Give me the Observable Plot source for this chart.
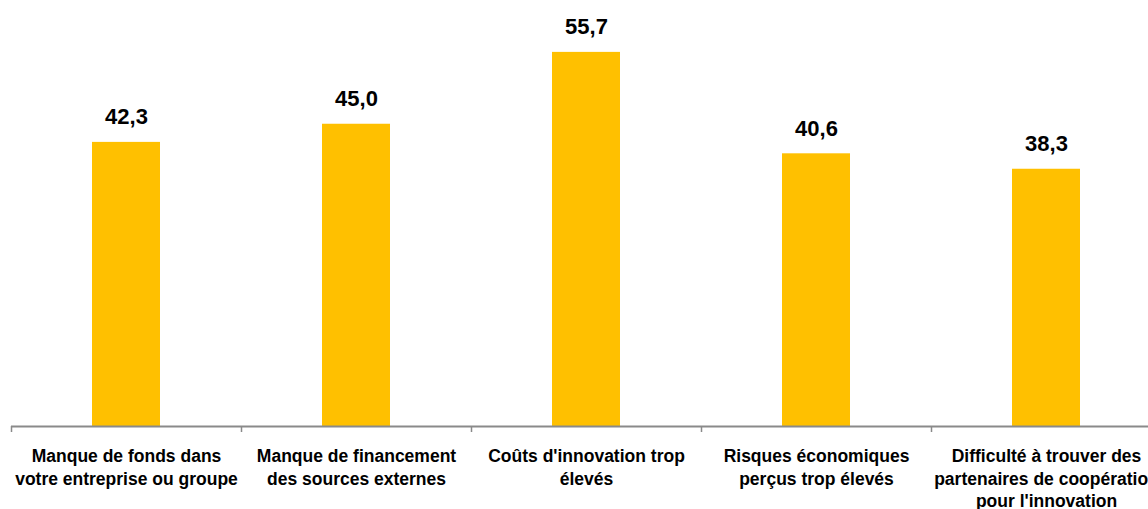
<!DOCTYPE html>
<html>
<head>
<meta charset="utf-8">
<script src="https://cdn.jsdelivr.net/npm/d3@7"></script>
<script src="https://cdn.jsdelivr.net/npm/@observablehq/plot@0.6"></script>
<style>
  html, body { margin: 0; padding: 0; background: #fff; }
  #chart svg { display: block; overflow: hidden; }
</style>
</head>
<body>
<div id="chart"></div>
<script>
const categories = [
  "Manque de fonds dans votre entreprise ou groupe",
  "Manque de financement des sources externes",
  "Coûts d'innovation trop élevés",
  "Risques économiques perçus trop élevés",
  "Difficulté à trouver des partenaires de coopération pour l'innovation"
];
const tickLabels = [
  "Manque de fonds dans\nvotre entreprise ou groupe",
  "Manque de financement\ndes sources externes",
  "Coûts d'innovation trop\nélevés",
  "Risques économiques\nperçus trop élevés",
  "Difficulté à trouver des\npartenaires de coopération\npour l'innovation"
];
const values = [42.3, 45.0, 55.7, 40.6, 38.3];

const data = categories.map((c, i) => ({category: c, value: values[i]}));
const labelOf = new Map(categories.map((c, i) => [c, tickLabels[i]]));
const fmt = v => v.toFixed(1).replace(".", ",");

const W = 1148, H = 509;
const marginLeft = 11, marginRight = -13;
const step = (W - marginLeft - marginRight) / categories.length;

const chart = Plot.plot({
  width: W,
  height: H,
  marginTop: 23,
  marginBottom: 83,
  marginLeft,
  marginRight,
  style: {fontFamily: "'Liberation Sans', Arial, sans-serif", background: "#fff", color: "#000"},
  x: {domain: categories, paddingInner: 0.704, paddingOuter: 0.352, align: 0.5, label: null},
  y: {domain: [0, 60], axis: null},
  marks: [
    Plot.barY(data, {x: "category", y: "value", fill: "#FFC000"}),
    Plot.ruleY([0], {stroke: "#8a8a8a", strokeWidth: 2}),
    Plot.axisX({tickSize: 6, dx: -step / 2, tickFormat: () => "", stroke: "#8a8a8a", strokeWidth: 1.5, label: null}),
    Plot.axisX({tickSize: 0, tickPadding: 20, tickFormat: d => labelOf.get(d), fontSize: 17.5, fontWeight: "bold", lineHeight: 1.27, fill: "#000", label: null, textOverflow: null}),
    Plot.text(data, {x: "category", y: "value", text: d => fmt(d.value), lineAnchor: "bottom", dy: -18, fontSize: 22, fontWeight: "bold", fill: "#000"})
  ]
});
document.getElementById("chart").appendChild(chart);
</script>
</body>
</html>
